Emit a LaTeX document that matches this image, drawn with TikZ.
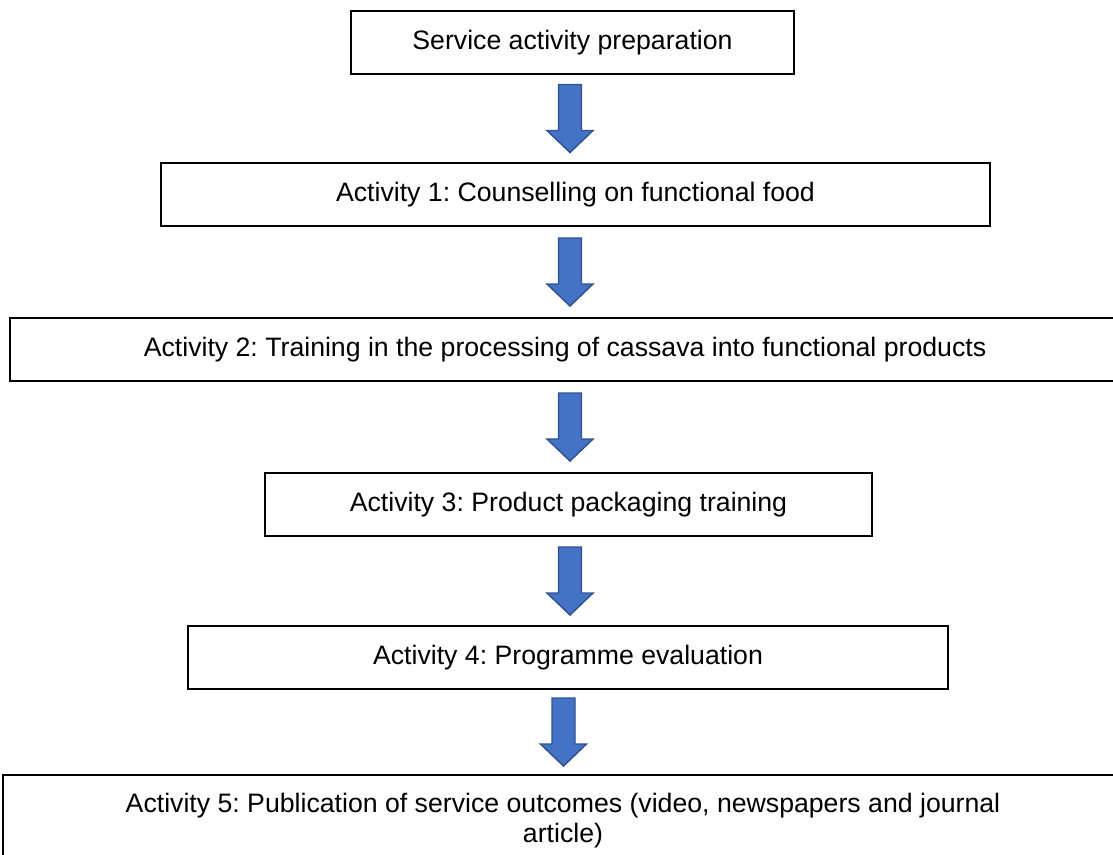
\documentclass[tikz,border=0pt]{standalone}
\usepackage{fontspec}
\setmainfont{Liberation Sans}
\usetikzlibrary{calc}
\definecolor{arrowFill}{RGB}{68,114,196}
\definecolor{arrowEdge}{RGB}{47,82,143}
\frenchspacing
\begin{document}
\begin{tikzpicture}
[x=0.75pt,y=-0.75pt,%
  stepBox/.style={draw,line width=1.5pt,inner sep=0pt,align=center,%
    font=\fontsize{20}{22}\selectfont,text height=14.5pt,text depth=4pt},%
  blockArrow/.style={fill=arrowFill,draw=arrowEdge,line width=1.1pt,line join=miter}]
\useasboundingbox (0,0) rectangle (1113,854);
\clip (0,0) rectangle (1113,854);
%% boxes of the activity flow
\foreach \nodename/\x/\y/\w/\h/\label in {
  prep/572.5/42.5/443/63/{Service activity preparation},
  act1/575.5/194.5/829/63/{Activity 1: Counselling on functional food},
  act2/565/349.5/1110/63/{Activity 2: Training in the processing of cassava into functional products},
  act3/568.5/504.5/607/63/{Activity 3: Product packaging training},
  act4/568/657.5/760/63/{Activity 4: Programme evaluation}}
{
  \node (\nodename) at (\x,\y) [stepBox,minimum width=\w*0.75pt,minimum height=\h*0.75pt] {\label};
}
\node (act5) at (563,820.5) [stepBox,text height=,text depth=,minimum width=1120*0.75pt,minimum height=91*0.75pt]
  {Activity 5: Publication of service outcomes (video, newspapers and journal\\ article)};
%% block arrows between the boxes
\foreach \startnode/\endnode/\ax in {prep/act1/570, act1/act2/570, act2/act3/570, act3/act4/570, act4/act5/563.5}
{
  \coordinate (mid) at ($(\startnode.south)!0.5!(\endnode.north)$);
  \coordinate (c) at (\ax,0 |- mid);
  \draw[blockArrow] ($(c)+(-11.5,-34)$) -- ++(23,0) -- ++(0,46) -- ++(11.5,0)
    -- ($(c)+(0,34)$) -- ++(-23,-22) -- ++(11.5,0) -- cycle;
}
\end{tikzpicture}
\end{document}
